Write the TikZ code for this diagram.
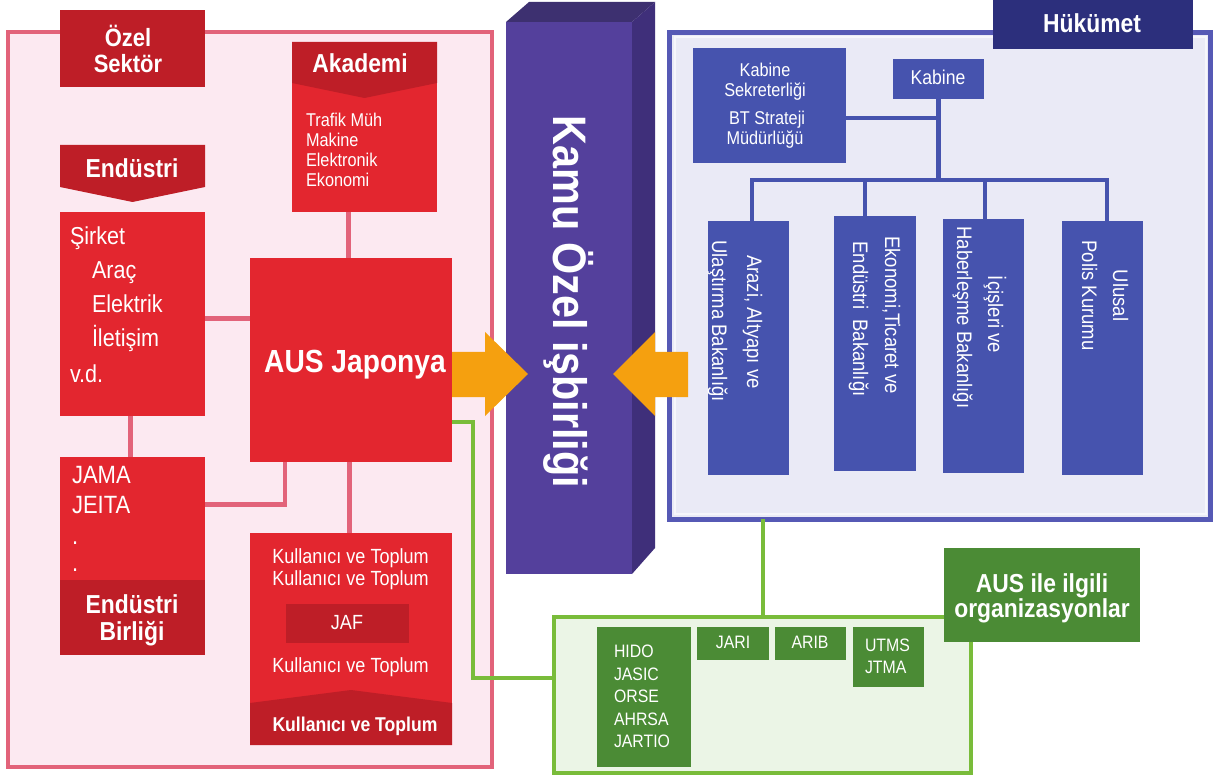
\documentclass[tikz,border=0pt]{standalone}
\usepackage{fontspec}
\setmainfont{Liberation Sans}[FakeStretch=0.88]

\definecolor{pinkline}{HTML}{E2637A}
\definecolor{pinkfill}{HTML}{FCE9F1}
\definecolor{redbox}{HTML}{E3262F}
\definecolor{redhead}{HTML}{BE1E27}
\definecolor{blueline}{HTML}{5659B5}
\definecolor{bluefill}{HTML}{EAEAF6}
\definecolor{bluebox}{HTML}{4653AE}
\definecolor{bluehead}{HTML}{2C2F7C}
\definecolor{greenline}{HTML}{79BC3A}
\definecolor{greenfill}{HTML}{EBF5E6}
\definecolor{greenbox}{HTML}{4B8B35}
\definecolor{orangearrow}{HTML}{F5A00F}
\definecolor{pillarfront}{HTML}{54409C}
\definecolor{pillarside}{HTML}{3F2F7A}
\definecolor{pillartop}{HTML}{3D3070}

% rectangular block given by its corners: \blk[style]{x1}{y1}{x2}{y2}{name}
\newcommand\blk[6][]{%
  \node[blkbase,#1,minimum width={(#4)-(#2)},minimum height={(#5)-(#3)}] (#6) at (#2,#3) {};}
\newcommand\fsz[1]{\fontsize{#1}{#1}\selectfont}

\begin{document}
\begin{tikzpicture}[x=1pt,y=-1pt,
  blkbase/.style={anchor=north west,inner sep=0pt,outer sep=0pt,draw=none,rectangle},
  redbody/.style={fill=redbox},
  redhd/.style={fill=redhead},
  bluebody/.style={fill=bluebox},
  greenbody/.style={fill=greenbox},
  pinkcon/.style={draw=pinkline,line width=4.5pt},
  bluecon/.style={draw=bluebox,line width=4.5pt},
  greencon/.style={draw=greenline,line width=4pt},
  wt/.style={text=white,inner sep=0pt,outer sep=0pt,anchor=base},
  wtl/.style={wt,anchor=base west},
  mini/.style={wt,rotate=-90,font=\fsz{21}},
]
\useasboundingbox (0,0) rectangle (1215,775);
\fill[white] (0,0) rectangle (1215,775);

% ---------- frames ----------
\blk[draw=pinkline,fill=pinkfill,line width=4pt]{8}{32}{492}{767}{pinkarea}
\blk[draw=blueline,fill=bluefill,line width=5pt]{669.5}{32.5}{1210.5}{519}{bluearea}
\draw[white,opacity=0.6,line width=2pt] (674.5,37.5) rectangle (1205.5,514);
\blk[draw=greenline,fill=greenfill,line width=4pt]{554}{617}{970.5}{773}{grp}

% ---------- private sector ----------
\blk[redhd]{60}{10}{205}{87}{ozel}
\node[wt,font=\bfseries\fsz{25}] (ozelA) at (128,47) {Özel};
\node[wt,font=\bfseries\fsz{25}] (ozelB) at (128,73) {Sektör};

% academy
\blk[redbody]{292}{42}{437}{212}{akad}
\fill[redhead] (akad.north west) -- (akad.north east) -- (437,83) -- (364.5,98) -- (292,83) -- cycle;
\node[wt,font=\bfseries\fsz{26}] (akadT) at (360,73) {Akademi};
\node[wtl,font=\fsz{18.5}] (ak1) at (306,127) {Trafik Müh};
\node[wtl,font=\fsz{18.5}] (ak2) at (306,147) {Makine};
\node[wtl,font=\fsz{18.5}] (ak3) at (306,167) {Elektronik};
\node[wtl,font=\fsz{18.5}] (ak4) at (306,187) {Ekonomi};

% industry
\blk[fill=none]{60}{145}{205}{202}{endh}
\fill[redhead] (60,145) -- (205,145) -- (205,187) -- (132.5,202) -- (60,187) -- cycle;
\node[wt,font=\bfseries\fsz{26}] (endT) at (132,178) {Endüstri};
\blk[redbody]{60}{212}{205}{416}{sirket}
\node[wtl,font=\fsz{24.5}] (s1) at (70,245) {Şirket};
\node[wtl,font=\fsz{24.5}] (s2) at (92,279) {Araç};
\node[wtl,font=\fsz{24.5}] (s3) at (92,313) {Elektrik};
\node[wtl,font=\fsz{24.5}] (s4) at (92,347) {İletişim};
\node[wtl,font=\fsz{24.5}] (s5) at (70,382) {v.d.};

% industry associations
\blk[redbody]{60}{457}{205}{655}{jama}
\fill[redhead] (60,580) rectangle (jama.south east);
\node[wtl,font=\fsz{25}] (j1) at (72,483) {JAMA};
\node[wtl,font=\fsz{25}] (j2) at (72,513) {JEITA};
\node[wtl,font=\fsz{25}] (j3) at (72,544) {.};
\node[wtl,font=\fsz{25}] (j4) at (72,571) {.};
\node[wt,font=\bfseries\fsz{26}] (eb1) at (132,613) {Endüstri};
\node[wt,font=\bfseries\fsz{26}] (eb2) at (132,640) {Birliği};

% ITS Japan
\blk[redbody]{250}{258}{452}{462}{aus}
\node[wt,font=\bfseries\fsz{32}] (ausT) at (355,373) {AUS Japonya};

% users and society
\blk[redbody]{250}{533}{452}{745}{kull}
\fill[redhead] (250,703) -- (351,690) -- (452,703) -- (kull.south east) -- (kull.south west) -- cycle;
\node[wt,font=\fsz{20.5}] (k1) at (350.5,563) {Kullanıcı ve Toplum};
\node[wt,font=\fsz{20.5}] (k2) at (350.5,585) {Kullanıcı ve Toplum};
\blk[redhd]{286}{604}{409}{643}{jaf}
\node[wt,font=\fsz{20.5}] (jafT) at (347,629) {JAF};
\node[wt,font=\fsz{20.5}] (k3) at (350.5,672) {Kullanıcı ve Toplum};
\node[wt,font=\bfseries\fsz{20}] (k4) at (355,731) {Kullanıcı ve Toplum};

% links inside the private sector
\draw[pinkcon] (akad.south -| 348.5,0) -- (aus.north -| 348.5,0);
\draw[pinkcon] (sirket.east |- 0,318.5) -- (aus.west |- 0,318.5);
\draw[pinkcon] (sirket.south -| 130.5,0) -- (jama.north -| 130.5,0);
\draw[pinkcon] (jama.east |- 0,504.5) -| (aus.south -| 285,0);
\draw[pinkcon] (aus.south -| 349.5,0) -- (kull.north -| 349.5,0);

% ---------- government ----------
\blk[fill=bluehead]{993}{0}{1193}{49}{govlbl}
\node[wt,font=\bfseries\fsz{26}] (govT) at (1092,33) {Hükümet};

\blk[bluebody]{693}{48}{846}{163}{ks}
\node[wt,font=\fsz{18.5}] (ks1) at (765,77) {Kabine};
\node[wt,font=\fsz{18.5}] (ks2) at (765,97) {Sekreterliği};
\node[wt,font=\fsz{18.5}] (ks3) at (767,125) {BT Strateji};
\node[wt,font=\fsz{18.5}] (ks4) at (765,145) {Müdürlüğü};

\blk[bluebody]{893}{59}{984}{99}{kab}
\node[wt,font=\fsz{20}] (kabT) at (938,85) {Kabine};

\blk[bluebody]{708}{221}{789}{475}{m1}
\blk[bluebody]{834}{216}{916}{471}{m2}
\blk[bluebody]{943}{219}{1024}{473}{m3}
\blk[bluebody]{1062}{221}{1143}{475}{m4}

\coordinate (hub) at (938.5,180);
\draw[bluecon] (kab.south) -- (hub);
\draw[bluecon] (ks.east |- 0,118) -- (kab.south |- 0,118);
\draw[bluecon] (m1.north -| 752,0) |- (hub);
\draw[bluecon] (m2.north -| 865,0) |- (hub);
\draw[bluecon] (m3.north -| 985,0) |- (hub);
\draw[bluecon] (m4.north -| 1107,0) |- (hub);

\node[mini] (m1a) at (747,322) {Arazi, Altyapı ve};
\node[mini] (m1b) at (712,321) {Ulaştırma Bakanlığı};
\node[mini] (m2a) at (885,315) {Ekonomi,Ticaret ve};
\node[mini] (m2b) at (853,319) {Endüstri~~Bakanlığı};
\node[mini] (m3a) at (988,314.5) {İçişleri ve};
\node[mini] (m3b) at (957,317.5) {Haberleşme Bakanlığı};
\node[mini] (m4a) at (1113,295.5) {Ulusal};
\node[mini] (m4b) at (1082,295.5) {Polis Kurumu};

% ---------- related organisations ----------
\draw[greencon] (bluearea.south -| 762.5,0) -- (grp.north -| 762.5,0);
\draw[greencon] (aus.east |- 0,421.5) -| (472.5,678) -- (grp.west |- 0,678);

\blk[greenbody]{597}{627}{691}{767}{hido}
\node[wtl,font=\fsz{18}] (h1) at (614,657) {HIDO};
\node[wtl,font=\fsz{18}] (h2) at (614,680) {JASIC};
\node[wtl,font=\fsz{18}] (h3) at (614,702) {ORSE};
\node[wtl,font=\fsz{18}] (h4) at (614,725) {AHRSA};
\node[wtl,font=\fsz{18}] (h5) at (614,747) {JARTIO};
\blk[greenbody]{697}{627}{769}{660}{jari}
\node[wt,font=\fsz{18}] (jariT) at (733,648) {JARI};
\blk[greenbody]{775}{627}{846}{660}{arib}
\node[wt,font=\fsz{18}] (aribT) at (810,648) {ARIB};
\blk[greenbody]{853}{627}{924}{687}{utms}
\node[wtl,font=\fsz{18}] (u1) at (865,651) {UTMS};
\node[wtl,font=\fsz{18}] (u2) at (865,673) {JTMA};

\blk[greenbody]{944}{548}{1140}{642}{grplbl}
\node[wt,font=\bfseries\fsz{26}] (g1) at (1042,592) {AUS ile ilgili};
\node[wt,font=\bfseries\fsz{26}] (g2) at (1042,617) {organizasyonlar};

% ---------- public-private partnership pillar ----------
\fill[pillartop] (506,22) -- (529,2) -- (655,2) -- (632,22) -- cycle;
\fill[pillarside] (632,22) -- (655,2) -- (655,548) -- (632,574) -- cycle;
\blk[fill=pillarfront]{506}{22}{632}{574}{pillar}
\node[wt,rotate=-90,font=\bfseries\fsz{47}] (pillarT) at (553,302) {Kamu Özel işbirliği};

% ---------- block arrows ----------
\fill[orangearrow] (aus.east |- 0,352) -- (485,352) -- (485,332) -- (528,374)
  -- (485,416) -- (485,397) -- (aus.east |- 0,397) -- cycle;
\fill[orangearrow] (688,352) -- (655,352) -- (655,332) -- (613,374)
  -- (655,416) -- (655,397) -- (688,397) -- cycle;
\end{tikzpicture}
\end{document}
